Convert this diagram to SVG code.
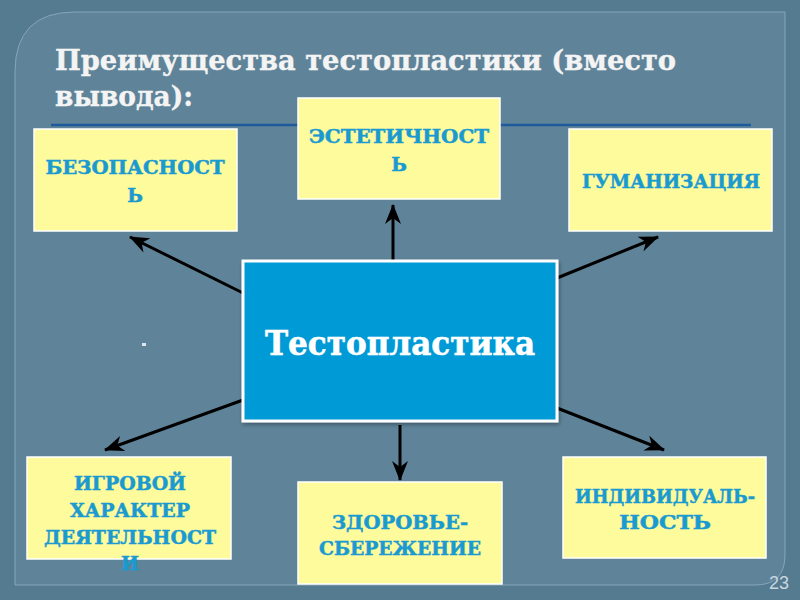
<svg xmlns="http://www.w3.org/2000/svg" width="800" height="600" viewBox="0 0 800 600">
  <defs>
    <marker id="ah" viewBox="0 0 20 16" markerWidth="20" markerHeight="16" refX="19" refY="8" orient="auto" markerUnits="userSpaceOnUse">
      <path d="M0,0 L20,8 L0,16 L6,8 Z" fill="#000"/>
    </marker>
    <filter id="sh" x="-10%" y="-10%" width="120%" height="130%">
      <feDropShadow dx="1" dy="2" stdDeviation="2" flood-color="#000" flood-opacity="0.35"/>
    </filter>
  </defs>
  <style>
    .box { fill: #fdfb9c; stroke: #ffffff; stroke-width: 1.5; }
    .lbl { font-family: "DejaVu Serif", "Liberation Serif", serif; font-weight: bold; font-size: 19px; fill: #1a9ad0; stroke: #1a9ad0; stroke-width: 0.5; text-anchor: middle; }
    .conn line { stroke: #000; stroke-width: 3; marker-end: url(#ah); }
    .title { font-family: "DejaVu Serif", "Liberation Serif", serif; font-weight: bold; font-size: 28px; fill: #f4f4f4; stroke: #f4f4f4; stroke-width: 0.4; }
  </style>
  <rect x="0" y="0" width="800" height="600" fill="#557b91"/>
  <path d="M75,12 H785 V555 Q785,585 755,585 H15 V72 Q15,12 75,12 Z" fill="#5f8499" stroke="#86a6b8" stroke-width="1"/>

  <g id="title">
    <text class="title" x="55" y="70" textLength="621" lengthAdjust="spacingAndGlyphs">Преимущества тестопластики (вместо</text>
    <text class="title" x="55" y="106" textLength="138" lengthAdjust="spacingAndGlyphs">вывода):</text>
    <line x1="51" y1="125" x2="751" y2="125" stroke="#1f5a9c" stroke-width="2.5"/>
  </g>

  <g id="connectors" class="conn">
    <line x1="243" y1="293" x2="130" y2="237"/>
    <line x1="393" y1="261" x2="393" y2="205"/>
    <line x1="557" y1="278" x2="658" y2="237"/>
    <line x1="243" y1="400" x2="105" y2="450"/>
    <line x1="400" y1="425" x2="400" y2="480"/>
    <line x1="557" y1="408" x2="664" y2="450"/>
  </g>

  <g id="center">
    <rect x="243" y="261" width="314" height="160" fill="#039ad6" stroke="#ffffff" stroke-width="3" filter="url(#sh)"/>
    <text x="400" y="355" font-family="DejaVu Serif, Liberation Serif, serif" font-weight="bold" font-size="33" fill="#ffffff" stroke="#ffffff" stroke-width="0.6" text-anchor="middle" textLength="270" lengthAdjust="spacingAndGlyphs">Тестопластика</text>
  </g>

  <g id="bezopasnost">
    <rect class="box" x="34" y="129" width="203" height="102"/>
    <text class="lbl" x="135" y="174" textLength="179" lengthAdjust="spacingAndGlyphs">БЕЗОПАСНОСТ</text>
    <text class="lbl" x="135" y="202">Ь</text>
  </g>

  <g id="estetichnost">
    <rect class="box" x="298" y="98" width="202" height="101"/>
    <text class="lbl" x="399" y="143" textLength="180" lengthAdjust="spacingAndGlyphs">ЭСТЕТИЧНОСТ</text>
    <text class="lbl" x="399" y="171">Ь</text>
  </g>

  <g id="gumanizaciya">
    <rect class="box" x="569" y="129" width="203" height="102"/>
    <text class="lbl" x="671" y="188" textLength="178" lengthAdjust="spacingAndGlyphs">ГУМАНИЗАЦИЯ</text>
  </g>

  <g id="igrovoy">
    <rect class="box" x="27" y="457" width="204" height="102"/>
    <text class="lbl" x="130" y="490" textLength="112" lengthAdjust="spacingAndGlyphs">ИГРОВОЙ</text>
    <text class="lbl" x="130" y="517" textLength="120" lengthAdjust="spacingAndGlyphs">ХАРАКТЕР</text>
    <text class="lbl" x="130" y="544" textLength="172" lengthAdjust="spacingAndGlyphs">ДЕЯТЕЛЬНОСТ</text>
    <text class="lbl" x="130" y="570">И</text>
  </g>

  <g id="zdorovie">
    <rect class="box" x="298" y="482" width="204" height="102"/>
    <text class="lbl" x="400" y="529" textLength="136" lengthAdjust="spacingAndGlyphs">ЗДОРОВЬЕ-</text>
    <text class="lbl" x="400" y="555" textLength="162" lengthAdjust="spacingAndGlyphs">СБЕРЕЖЕНИЕ</text>
  </g>

  <g id="individualnost">
    <rect class="box" x="563" y="457" width="203" height="101"/>
    <text class="lbl" x="665" y="503" textLength="180" lengthAdjust="spacingAndGlyphs">ИНДИВИДУАЛЬ-</text>
    <text class="lbl" x="665" y="529" textLength="92" lengthAdjust="spacingAndGlyphs">НОСТЬ</text>
  </g>

  <rect x="142" y="343" width="4" height="3" fill="#dde6ec"/>
  <text x="789" y="589" font-family="Liberation Sans, Arial, sans-serif" font-size="18" fill="#c9d7e0" text-anchor="end">23</text>
</svg>
